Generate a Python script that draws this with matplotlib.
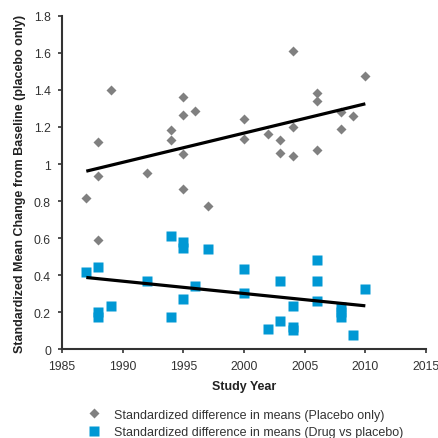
import numpy as np
import matplotlib
matplotlib.use("Agg")
import matplotlib.pyplot as plt
from matplotlib.ticker import FuncFormatter

plt.rcParams['font.family'] = ['Liberation Sans', 'DejaVu Sans']

# placebo-only trials
placebo_year = [1987, 1988, 1988, 1988, 1989, 1992, 1994, 1994, 1995, 1995, 1995, 1995,
                1996, 1997, 2000, 2000, 2002, 2003, 2003, 2004, 2004, 2004,
                2006, 2006, 2006, 2008, 2008, 2009, 2010]
placebo_val = [0.816, 1.117, 0.935, 0.588, 1.40, 0.951, 1.182, 1.128, 1.361, 1.266, 1.054, 0.863,
               1.285, 0.771, 1.245, 1.135, 1.164, 1.128, 1.061, 1.612, 1.20, 1.043,
               1.384, 1.341, 1.077, 1.279, 1.188, 1.258, 1.474]

# drug vs placebo trials
drug_year = [1987, 1988, 1988, 1988, 1989, 1992, 1994, 1994, 1995, 1995, 1995, 1996, 1997,
             2000, 2000, 2002, 2003, 2003, 2004, 2004, 2004, 2006, 2006, 2006,
             2008, 2008, 2008, 2009, 2010]
drug_val = [0.418, 0.443, 0.198, 0.174, 0.234, 0.368, 0.613, 0.175, 0.577, 0.548, 0.27, 0.342, 0.54,
            0.432, 0.304, 0.108, 0.366, 0.153, 0.234, 0.12, 0.105, 0.483, 0.368, 0.261,
            0.229, 0.2, 0.175, 0.078, 0.326]

gray = '#808080'
blue = '#0098d4'

fig = plt.figure(figsize=(4.38, 4.39), dpi=100)
ax = fig.add_axes([0.1416, 0.2027, 0.831, 0.7586])

h1, = ax.plot(placebo_year, placebo_val, 'D', color=gray, ms=5.0, mec='none', clip_on=False)
h2, = ax.plot(drug_year, drug_val, 's', color=blue, ms=7.2, mec='none', clip_on=False)

# linear trend lines over the span of each series
for yr, v in [(placebo_year, placebo_val), (drug_year, drug_val)]:
    k, b = np.polyfit(yr, v, 1)
    xs = np.array([min(yr), max(yr)])
    ax.plot(xs, k * xs + b, color='black', lw=2.3, solid_capstyle='butt')

ax.set_xlim(1985, 2015)
ax.set_ylim(0, 1.8)
ax.set_xticks(range(1985, 2016, 5))
ax.set_yticks(np.arange(0, 1.81, 0.2))
ax.yaxis.set_major_formatter(FuncFormatter(lambda v, p: '%g' % round(v, 1)))

for s in ['top', 'right']:
    ax.spines[s].set_visible(False)
for s in ['left', 'bottom']:
    ax.spines[s].set_color('#333333')
    ax.spines[s].set_linewidth(1.5)
ax.tick_params(direction='out', length=3, width=1.2, color='#333333',
               labelsize=8.8, labelcolor='#333333', pad=5)

ax.set_xlabel('Study Year', fontsize=9, fontweight='bold', color='#222222', labelpad=6)
ax.set_ylabel('Standardized Mean Change from Baseline (placebo only)', fontsize=9,
              fontweight='bold', color='#222222', labelpad=6)

fig.legend([h1, h2],
           ['Standardized difference in means (Placebo only)',
            'Standardized difference in means (Drug vs placebo)'],
           loc='upper left', bbox_to_anchor=(0.19, 0.078), frameon=False,
           fontsize=9, handlelength=1.0, handletextpad=1.1, labelspacing=0.45,
           borderaxespad=0, labelcolor='#333333')

fig.savefig('out.png', dpi=100)
